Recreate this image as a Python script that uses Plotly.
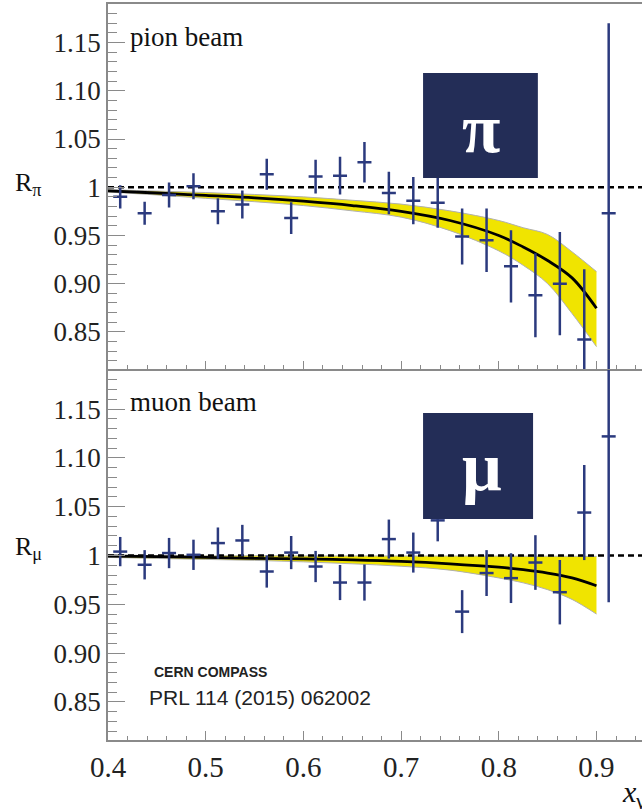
import plotly.graph_objects as go

# ---------------- data ----------------
x_bins = [0.4125, 0.4375, 0.4625, 0.4875, 0.5125, 0.5375, 0.5625, 0.5875, 0.6125, 0.6375,
          0.6625, 0.6875, 0.7125, 0.7375, 0.7625, 0.7875, 0.8125, 0.8375, 0.8625, 0.8875, 0.9125]

r_pion = [0.990, 0.973, 0.992, 1.001, 0.975, 0.982, 1.0135, 0.968, 1.011, 1.012,
          1.026, 0.994, 0.986, 0.984, 0.949, 0.945, 0.918, 0.888, 0.900, 0.842, 0.973]
e_pion = [0.012, 0.012, 0.013, 0.0135, 0.0135, 0.0145, 0.016, 0.0165, 0.0175, 0.0195,
          0.021, 0.022, 0.0245, 0.026, 0.029, 0.033, 0.0375, 0.0435, 0.0535, 0.073, 0.197]

r_muon = [1.004, 0.9905, 1.0025, 1.0007, 1.0127, 1.0154, 0.9836, 1.003, 0.9887, 0.9723,
          0.9723, 1.0168, 1.003, 1.036, 0.9425, 0.982, 0.9768, 0.9928, 0.9624, 1.044, 1.122]
e_muon = [0.015, 0.015, 0.0155, 0.0155, 0.016, 0.016, 0.0165, 0.017, 0.016, 0.018,
          0.0185, 0.020, 0.0205, 0.0215, 0.022, 0.0235, 0.0255, 0.028, 0.033, 0.0487, 0.170]

x_fit = [0.4, 0.45, 0.5, 0.55, 0.6, 0.65, 0.7, 0.75, 0.8, 0.825, 0.85, 0.875, 0.9]
fit_pion = [0.9963, 0.994, 0.9915, 0.989, 0.9855, 0.981, 0.975, 0.9655, 0.950, 0.938, 0.924, 0.906, 0.8745]
band_pion_hi = [0.9975, 0.996, 0.9945, 0.9925, 0.990, 0.9865, 0.9825, 0.9755, 0.9655, 0.958, 0.951, 0.933, 0.9125]
band_pion_lo = [0.995, 0.992, 0.9885, 0.985, 0.981, 0.9755, 0.969, 0.955, 0.934, 0.919, 0.900, 0.869, 0.8347]

fit_muon = [0.9995, 0.9988, 0.998, 0.997, 0.9965, 0.9955, 0.994, 0.9915, 0.988, 0.9855, 0.982, 0.977, 0.969]
band_muon_hi = [0.9998, 0.9998, 0.9997, 0.9997, 0.9996, 0.9996, 0.9995, 0.9995, 0.9994, 0.9993, 0.9993, 0.9992, 0.9991]
band_muon_lo = [0.998, 0.997, 0.996, 0.995, 0.9935, 0.9915, 0.989, 0.985, 0.977, 0.972, 0.965, 0.955, 0.940]

ref_x = [0.4, 0.9466]
ref_y = [1.0, 1.0]

y_tickvals = [0.85, 0.90, 0.95, 1.0, 1.05, 1.10, 1.15]
y_ticktext = ["0.85", "0.90", "0.95", "1", "1.05", "1.10", "1.15"]
x_tickvals = [0.4, 0.5, 0.6, 0.7, 0.8, 0.9]
x_ticktext = ["0.4", "0.5", "0.6", "0.7", "0.8", "0.9"]

# ---------------- style ----------------
NAVY = "#2b3a7e"
BOX = "#232d57"
YELLOW = "#f0e400"
AXIS = "#8a8a8a"
SERIF = "Liberation Serif"
SANS = "Liberation Sans"

fig = go.Figure()


def add_panel(xa, ya, fit, hi, lo, r, e):
    fig.add_trace(go.Scatter(x=x_fit, y=lo, mode="lines", line=dict(color="#b0b0b0", width=1, shape="spline"),
                             xaxis=xa, yaxis=ya, showlegend=False, hoverinfo="skip"))
    fig.add_trace(go.Scatter(x=x_fit, y=hi, mode="lines", line=dict(color="#b0b0b0", width=1, shape="spline"),
                             fill="tonexty", fillcolor=YELLOW,
                             xaxis=xa, yaxis=ya, showlegend=False, hoverinfo="skip"))
    fig.add_trace(go.Scatter(x=x_fit, y=fit, mode="lines", line=dict(color="black", width=2.8, shape="spline"),
                             xaxis=xa, yaxis=ya, showlegend=False))
    fig.add_trace(go.Scatter(x=ref_x, y=ref_y, mode="lines", line=dict(color="black", width=2.4, dash="6px,4px"),
                             xaxis=xa, yaxis=ya, showlegend=False))
    fig.add_trace(go.Scatter(x=x_bins, y=r, mode="markers",
                             marker=dict(symbol="line-ew", size=10, line=dict(color=NAVY, width=2.5), color=NAVY),
                             error_y=dict(type="data", array=e, visible=True, color=NAVY, thickness=2.5, width=0),
                             xaxis=xa, yaxis=ya, showlegend=False))


add_panel("x", "y", fit_pion, band_pion_hi, band_pion_lo, r_pion, e_pion)
add_panel("x2", "y2", fit_muon, band_muon_hi, band_muon_lo, r_muon, e_muon)

xcommon = dict(range=[0.4, 0.9466], tickvals=x_tickvals, ticktext=x_ticktext, automargin=False,
               ticks="inside", ticklen=9, tickwidth=1.3, tickcolor=AXIS,
               minor=dict(dtick=0.02, tick0=0.4, ticks="inside", ticklen=4.5, tickwidth=1.1, tickcolor=AXIS),
               showline=True, linecolor=AXIS, linewidth=1.5, showgrid=False, zeroline=False,
               tickfont=dict(family=SERIF, size=29, color="#222"))
ycommon = dict(range=[0.811, 1.19], tickvals=y_tickvals, ticktext=y_ticktext, automargin=False,
               ticks="inside", ticklen=17, tickwidth=1.3, tickcolor=AXIS,
               minor=dict(dtick=0.01, tick0=0.8, ticks="inside", ticklen=9, tickwidth=1.1, tickcolor=AXIS),
               showline=True, linecolor=AXIS, linewidth=1.5, showgrid=False, zeroline=False,
               tickfont=dict(family=SERIF, size=27, color="#222"))

fig.update_layout(
    width=642, height=809,
    margin=dict(l=108, r=0, t=4, b=69, autoexpand=False),
    paper_bgcolor="white", plot_bgcolor="white",
    font=dict(family=SERIF, color="#222"),
    xaxis=dict(xcommon, anchor="y", domain=[0, 1], showticklabels=False, mirror=True, matches="x2"),
    yaxis=dict(ycommon, anchor="x", domain=[0.5034, 1]),
    xaxis2=dict(xcommon, anchor="y2", domain=[0, 1]),
    yaxis2=dict(ycommon, anchor="x2", domain=[0, 0.5027]),
    showlegend=False,
)

# boxes with particle symbols
fig.add_shape(type="rect", xref="paper", yref="paper", x0=0.590, x1=0.805, y0=0.7636, y1=0.9063,
              fillcolor=BOX, line=dict(width=0), layer="above")
fig.add_shape(type="rect", xref="paper", yref="paper", x0=0.590, x1=0.796, y0=0.3003, y1=0.4443,
              fillcolor=BOX, line=dict(width=0), layer="above")

ann = [
    dict(text="<b>π</b>", x=0.6976, y=0.835, font=dict(family=SERIF, size=70, color="white"), xanchor="center", yanchor="middle", yshift=-3),
    dict(text="<b>μ</b>", x=0.6995, y=0.372, font=dict(family=SERIF, size=70, color="white"), xanchor="center", yanchor="middle"),
    dict(text="pion beam", x=0.0375, y=0.955, font=dict(family=SERIF, size=27, color="#111"), xanchor="left", yanchor="middle"),
    dict(text="muon beam", x=0.0375, y=0.459, font=dict(family=SERIF, size=27, color="#111"), xanchor="left", yanchor="middle"),
    dict(text="R<sub>π</sub>", x=-0.178, y=0.7554, font=dict(family=SERIF, size=26, color="#111"), xanchor="left", yanchor="middle"),
    dict(text="R<sub>μ</sub>", x=-0.178, y=0.261, font=dict(family=SERIF, size=26, color="#111"), xanchor="left", yanchor="middle"),
    dict(text="<b>CERN COMPASS</b>", x=0.0824, y=0.0924, font=dict(family=SANS, size=14, color="#222"), xanchor="left", yanchor="middle"),
    dict(text="PRL 114 (2015) 062002", x=0.073, y=0.0577, font=dict(family=SANS, size=21, color="#222"), xanchor="left", yanchor="middle"),
    dict(text="<i>x</i><sub>γ</sub>", x=0.9588, y=-0.0734, font=dict(family=SERIF, size=30, color="#111"), xanchor="left", yanchor="middle"),
]
for a in ann:
    fig.add_annotation(xref="paper", yref="paper", showarrow=False, **a)

fig.write_html("out.html", config={"displayModeBar": False},
               post_script="document.body.style.margin='0';document.body.style.padding='0';")
